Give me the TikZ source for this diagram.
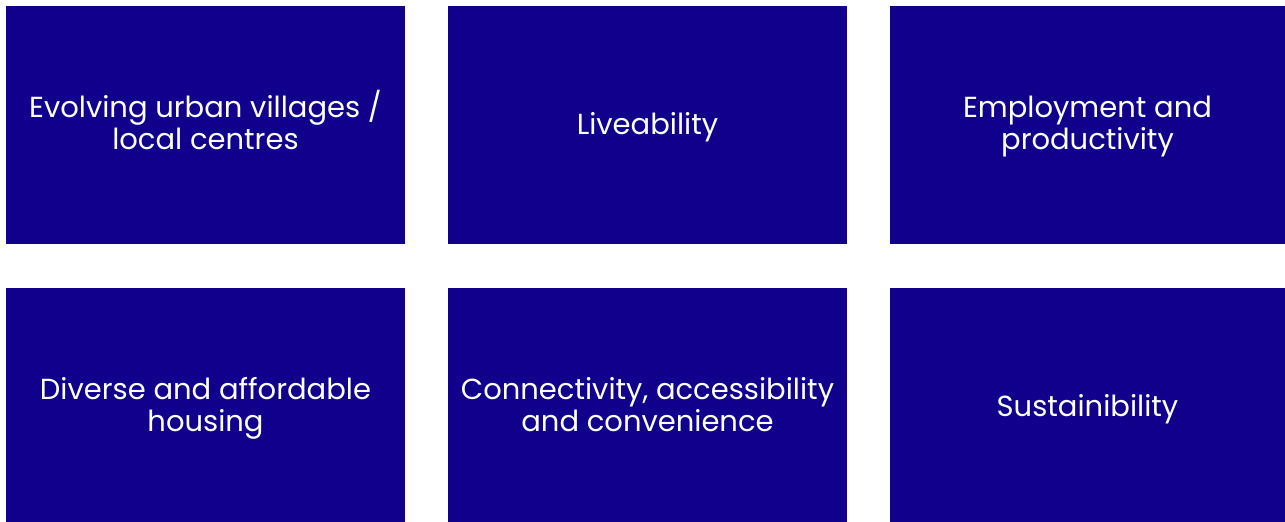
\documentclass[tikz,border=0pt]{standalone}
\usepackage{fontspec}
\setmainfont{Poppins}
\definecolor{tilebg}{RGB}{16,0,140}
\begin{document}
\begin{tikzpicture}[x=1pt,y=-1pt,
  tile/.style={fill=tilebg,draw=none,inner sep=0pt,text=white,align=center,
    font=\fontsize{29}{32}\selectfont}]
\useasboundingbox (0,0) rectangle (1285,522);
% top row
\fill[tilebg] (6,6) rectangle (405,244) node[midway,yshift=5pt,tile] (t1) {Evolving urban villages /\\local centres};
\fill[tilebg] (448,6) rectangle (847,244) node[midway,yshift=-2pt,tile] (t2) {Liveability};
\fill[tilebg] (890,6) rectangle (1285,244) node[midway,yshift=-2pt,tile] (t3) {Employment and\\productivity};
% bottom row
\fill[tilebg] (6,288) rectangle (405,522) node[midway,yshift=-3pt,tile] (b1) {Diverse and affordable\\housing};
\fill[tilebg] (448,288) rectangle (847,522) node[midway,tile] (b2) {Connectivity, accessibility\\and convenience};
\fill[tilebg] (890,288) rectangle (1285,522) node[midway,yshift=-4pt,tile] (b3) {Sustainibility};
\end{tikzpicture}
\end{document}
